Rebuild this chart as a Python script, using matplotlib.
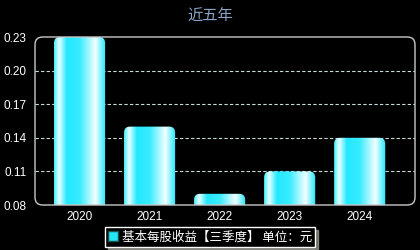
import matplotlib
matplotlib.use('Agg')
import matplotlib.pyplot as plt
from matplotlib.patches import FancyBboxPatch, Patch
from matplotlib.colors import LinearSegmentedColormap
import numpy as np

years = ['2020', '2021', '2022', '2023', '2024']
eps = [0.23, 0.15, 0.09, 0.11, 0.14]
yticks = [0.08, 0.11, 0.14, 0.17, 0.20, 0.23]

plt.rcParams['font.family'] = ['Liberation Sans', 'Noto Sans CJK SC', 'DejaVu Sans']

fig = plt.figure(figsize=(4.2, 2.5), dpi=100, facecolor='black')
ax = fig.add_axes([35 / 420, 45 / 250, 380 / 420, 168 / 250])
ax.set_facecolor('black')

ymin, ymax = 0.08, 0.23
ax.set_xlim(-0.636, 4.79)
ax.set_ylim(ymin, ymax)

# horizontal gradient used for every bar
bar_cmap = LinearSegmentedColormap.from_list('bar', [
    (0.0, '#3ff0ff'), (0.1, '#e8ffff'), (0.25, '#22e8ff'),
    (0.5, '#3aecff'), (0.8, '#f2ffff'), (1.0, '#1ce6ff')])
grad = np.linspace(0, 1, 256).reshape(1, -1)

width = 0.73
px_x = 380 / (ax.get_xlim()[1] - ax.get_xlim()[0])
px_y = 168 / (ymax - ymin)
radius = 6 / px_x
for i, v in enumerate(eps):
    left = i - width / 2
    patch = FancyBboxPatch((left, ymin - 0.02), width, v - ymin + 0.02,
                           boxstyle='round,pad=0,rounding_size=%f' % radius,
                           mutation_aspect=px_x / px_y,
                           facecolor='none', edgecolor='none')
    ax.add_patch(patch)
    im = ax.imshow(grad, cmap=bar_cmap, aspect='auto',
                   extent=(left, left + width, ymin, v), zorder=2)
    im.set_clip_path(patch)

ax.set_xlim(-0.636, 4.79)
ax.set_ylim(ymin, ymax)

# dashed grid lines
for t in yticks[1:-1]:
    ax.axhline(t, color='#c8dcdc', lw=0.8, ls=(0, (3, 2)), zorder=1)

ax.set_xticks(range(len(years)))
ax.set_xticklabels(years)
ax.set_yticks(yticks)
ax.set_yticklabels(['%.2f' % t for t in yticks])
ax.tick_params(colors='white', labelsize=8.5, length=0)
ax.tick_params(axis='y', pad=6)
ax.tick_params(axis='x', pad=4)
for s in ax.spines.values():
    s.set_visible(False)

# rounded frame around the plot area
frame = FancyBboxPatch((0, 0), 1, 1, boxstyle='round,pad=0,rounding_size=0.02',
                       mutation_aspect=380 / 168, transform=ax.transAxes,
                       facecolor='none', edgecolor='#c8c8c8', lw=1.0,
                       clip_on=False, zorder=3)
ax.add_patch(frame)

fig.text(0.5, 0.935, '近五年', color='#8aa4c8', fontsize=11,
         ha='center', va='center', family=['Noto Sans CJK SC'])

handle = Patch(facecolor='#22e4f4', edgecolor='#1a5050')
leg = fig.legend([handle], ['基本每股收益【三季度】 单位：元'],
                 loc='center', bbox_to_anchor=(210 / 420, 13 / 250),
                 frameon=True, fancybox=False,
                 shadow={'color': '#d0d0c8', 'ox': 2, 'oy': -2},
                 facecolor='black', edgecolor='white',
                 handlelength=0.8, handleheight=0.8, handletextpad=0.3,
                 borderpad=0.25, prop={'family': ['Noto Sans CJK SC'], 'size': 9})
for text in leg.get_texts():
    text.set_color('white')
leg.get_frame().set_linewidth(1.0)

plt.savefig('out.png', dpi=100, facecolor='black')
plt.close('all')
